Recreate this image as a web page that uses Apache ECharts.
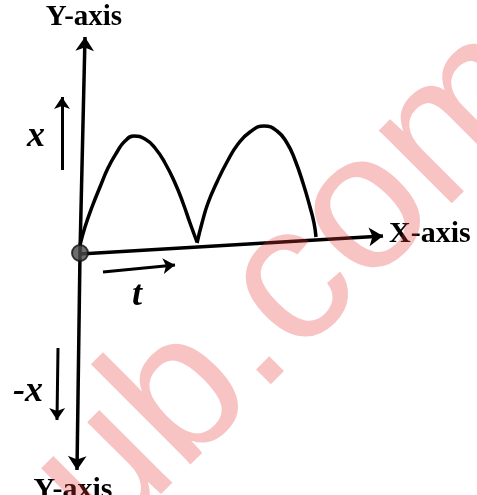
<!DOCTYPE html>
<html>
<head>
<meta charset="utf-8">
<script src="https://cdn.jsdelivr.net/npm/echarts@6/dist/echarts.min.js"></script>
<style>
  html, body { margin: 0; padding: 0; background: #fff; }
  #main { width: 477px; height: 495px; }
</style>
</head>
<body>
<div id="main"></div>
<script>
// 两个半波（读自图片，原点为坐标轴交点）
var hump1 = [[0,10],[5,28],[12,48],[20,68],[28,87],[37,103],[45,114],[54,119],[65,116],[75,107],[85,92],[95,72],[103,52],[110,32],[117,13]];
var hump2 = [[117,12],[122,32],[128,52],[137,73],[147,93],[158,111],[170,123],[184,129],[197,124],[207,112],[215,95],[223,72],[230,48],[234,32],[236,18]];

// 坐标轴和小箭头 [起点, 终点]
var xAxisLine = [[0,1],[303,19]];
var yUpLine = [[0,2],[5,218]];
var yDownLine = [[0,2],[-3,-215]];
var xUpArrow = [[-18,85],[-18,158]];
var xDownArrow = [[-22,-93],[-23,-165]];
var tArrow = [[23,-17],[95,-10]];
var origin = [[0,2]];

var chart = echarts.init(document.getElementById('main'));

var serif = '"Liberation Serif", "DejaVu Serif", serif';

function arrow(coords, withHead) {
    return {
        coords: coords,
        symbol: ['none', withHead ? 'arrow' : 'none']
    };
}

var option = {
    backgroundColor: '#ffffff',
    animation: false,
    grid: { left: 0, right: 0, top: 0, bottom: 0 },
    xAxis: { type: 'value', min: -80, max: 397, show: false },
    yAxis: { type: 'value', min: -240, max: 255, show: false },
    series: [
        {
            type: 'line',
            data: hump1,
            smooth: 0.5,
            symbol: 'none',
            lineStyle: { color: '#000', width: 3.5, join: 'round' }
        },
        {
            type: 'line',
            data: hump2,
            smooth: 0.5,
            symbol: 'none',
            lineStyle: { color: '#000', width: 3.5, join: 'round' }
        },
        {
            type: 'lines',
            coordinateSystem: 'cartesian2d',
            symbolSize: 14,
            lineStyle: { color: '#000', width: 3.5, opacity: 1, curveness: 0 },
            data: [
                arrow(xAxisLine, true),
                arrow(yUpLine, true),
                arrow(yDownLine, true)
            ]
        },
        {
            type: 'lines',
            coordinateSystem: 'cartesian2d',
            symbolSize: 12,
            lineStyle: { color: '#000', width: 3, opacity: 1, curveness: 0 },
            data: [
                arrow(xUpArrow, true),
                arrow(xDownArrow, true),
                arrow(tArrow, true)
            ]
        },
        {
            type: 'scatter',
            data: origin,
            symbolSize: 16,
            itemStyle: { color: '#4a4a4a', borderColor: '#111', borderWidth: 2 },
            z: 5
        }
    ],
    graphic: [
        { type: 'text', x: 84, y: 18, style: { text: 'Y-axis', font: 'bold 29px ' + serif, fill: '#000', align: 'center', verticalAlign: 'middle' } },
        { type: 'text', x: 73, y: 490, style: { text: 'Y-axis', font: 'bold 30px ' + serif, fill: '#000', align: 'center', verticalAlign: 'middle' } },
        { type: 'text', x: 389, y: 234, style: { text: 'X-axis', font: 'bold 30px ' + serif, fill: '#000', align: 'left', verticalAlign: 'middle' } },
        { type: 'text', x: 36, y: 137, style: { text: 'x', font: 'italic bold 36px ' + serif, fill: '#000', align: 'center', verticalAlign: 'middle' } },
        { type: 'text', x: 28, y: 392, style: { text: '-x', font: 'italic bold 36px ' + serif, fill: '#000', align: 'center', verticalAlign: 'middle' } },
        { type: 'text', x: 137, y: 296, style: { text: 't', font: 'italic bold 36px ' + serif, fill: '#000', align: 'center', verticalAlign: 'middle' } },
        // 水印
        {
            type: 'text', x: 293, y: 286, rotation: Math.PI / 4, z: 100,
            style: { text: 'ub.com', font: '195px "Liberation Sans", Arial, sans-serif', fill: 'rgba(231,56,56,0.3)', align: 'center', verticalAlign: 'middle' }
        }
    ]
};

chart.setOption(option);
</script>
</body>
</html>
